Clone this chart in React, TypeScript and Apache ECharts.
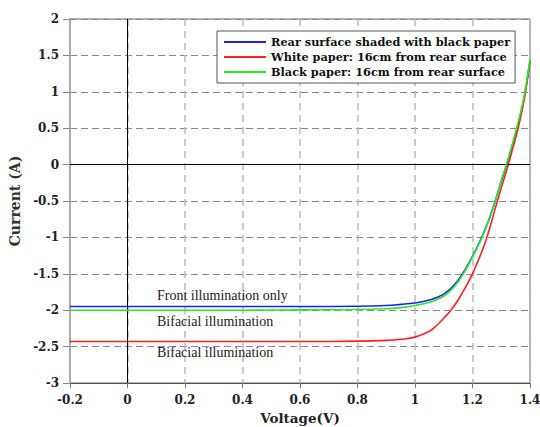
import React, { useEffect, useRef } from "react";
import * as echarts from "echarts";

const voltage = [-0.2, 0, 0.2, 0.4, 0.6, 0.8, 0.9, 0.95, 1.0, 1.05, 1.075, 1.1, 1.125, 1.15, 1.175, 1.2, 1.225, 1.25, 1.275, 1.3, 1.32, 1.34, 1.36, 1.38, 1.4];
const rearShaded = [-1.95, -1.95, -1.95, -1.95, -1.95, -1.945, -1.935, -1.92, -1.9, -1.86, -1.825, -1.78, -1.7, -1.59, -1.44, -1.26, -1.06, -0.83, -0.55, -0.23, 0.01, 0.28, 0.57, 0.92, 1.42];
const whitePaper = [-2.43, -2.43, -2.43, -2.43, -2.43, -2.425, -2.415, -2.4, -2.37, -2.29, -2.21, -2.11, -2.0, -1.86, -1.69, -1.5, -1.27, -1.0, -0.66, -0.32, -0.06, 0.22, 0.52, 0.9, 1.43];
const blackPaper = [-2.0, -2.0, -2.0, -2.0, -1.995, -1.99, -1.98, -1.965, -1.935, -1.89, -1.855, -1.805, -1.725, -1.61, -1.455, -1.27, -1.07, -0.84, -0.56, -0.22, 0.03, 0.3, 0.6, 0.95, 1.45];

const seriesNames = [
  "Rear surface shaded with black paper",
  "White paper: 16cm from rear surface",
  "Black paper: 16cm from rear surface",
];
const seriesColors = ["#1f1fff", "#ff1f1f", "#1fef1f"];
const annotations = [
  { text: "Front illumination only", y: 296 },
  { text: "Bifacial illumination", y: 322 },
  { text: "Bifacial illumination", y: 353 },
];

const serif = "DejaVu Serif";

export default function App() {
  const ref = useRef<HTMLDivElement>(null);
  useEffect(() => {
    if (!ref.current) return;
    const chart = echarts.init(ref.current, null, { renderer: "svg" });
    const allData = [rearShaded, whitePaper, blackPaper];
    chart.setOption({
      animation: false,
      backgroundColor: "#ffffff",
      grid: {
        left: 70,
        right: 10,
        top: 19,
        bottom: 44,
        containLabel: false,
        outerBoundsMode: "none",
        show: true,
        borderColor: "#666",
        borderWidth: 1,
      },
      legend: {
        orient: "vertical",
        left: 217,
        top: 31,
        padding: [4, 5, 4, 7],
        itemGap: 1,
        itemWidth: 42,
        itemHeight: 2,
        icon: "rect",
        borderColor: "#555",
        borderWidth: 1,
        backgroundColor: "#fff",
        textStyle: {
          fontFamily: serif,
          fontWeight: "bold",
          fontSize: 11.3,
          color: "#111",
          lineHeight: 14,
        },
        data: seriesNames,
      },
      xAxis: {
        type: "value",
        min: -0.2,
        max: 1.4,
        interval: 0.2,
        name: "Voltage(V)",
        nameLocation: "middle",
        nameGap: 27,
        nameTextStyle: { fontFamily: serif, fontWeight: "bold", fontSize: 13.5, color: "#222" },
        axisLine: { show: true, onZero: false, lineStyle: { color: "#555", width: 1 } },
        axisTick: { show: true, length: 5, lineStyle: { color: "#777" } },
        axisLabel: {
          margin: 11,
          fontFamily: serif,
          fontWeight: "bold",
          fontSize: 12,
          color: "#222",
          formatter: (v: number) => String(Math.round(v * 10) / 10),
        },
        splitLine: { show: true, lineStyle: { color: "#bbb", width: 1.5, type: [7, 5] } },
      },
      yAxis: {
        type: "value",
        min: -3,
        max: 2,
        interval: 0.5,
        name: "Current (A)",
        nameLocation: "middle",
        nameGap: 41,
        nameTextStyle: { fontFamily: serif, fontWeight: "bold", fontSize: 14, color: "#333" },
        axisLine: { show: true, onZero: false, lineStyle: { color: "#aaa", width: 2 } },
        axisTick: { show: true, length: 7, lineStyle: { color: "#888" } },
        axisLabel: {
          margin: 11,
          fontFamily: serif,
          fontWeight: "bold",
          fontSize: 12,
          color: "#222",
          formatter: (v: number) => String(Math.round(v * 10) / 10),
        },
        splitLine: { show: true, lineStyle: { color: "#888", width: 1, type: [7, 4] } },
      },
      graphic: annotations.map((a) => ({
        type: "text",
        left: 157,
        top: a.y - 8,
        style: {
          text: a.text,
          fontFamily: "Liberation Serif",
          fontSize: 14,
          fill: "#222",
        },
        z: 10,
      })),
      series: allData.map((d, i) => ({
        name: seriesNames[i],
        type: "line",
        data: voltage.map((v, k) => [v, d[k]]),
        smooth: 0.4,
        showSymbol: false,
        symbol: "none",
        lineStyle: { color: seriesColors[i], width: 1.6 },
        itemStyle: { color: seriesColors[i] },
        z: 3 + i,
        markLine:
          i === 0
            ? {
                silent: true,
                symbol: "none",
                label: { show: false },
                lineStyle: { color: "#000", width: 1, type: "solid" },
                data: [{ xAxis: 0 }, { yAxis: 0 }],
              }
            : undefined,
      })),
    });
    return () => chart.dispose();
  }, []);
  return (
    <div
      ref={ref}
      style={{ position: "absolute", left: 0, top: 0, width: 540, height: 427 }}
    />
  );
}
